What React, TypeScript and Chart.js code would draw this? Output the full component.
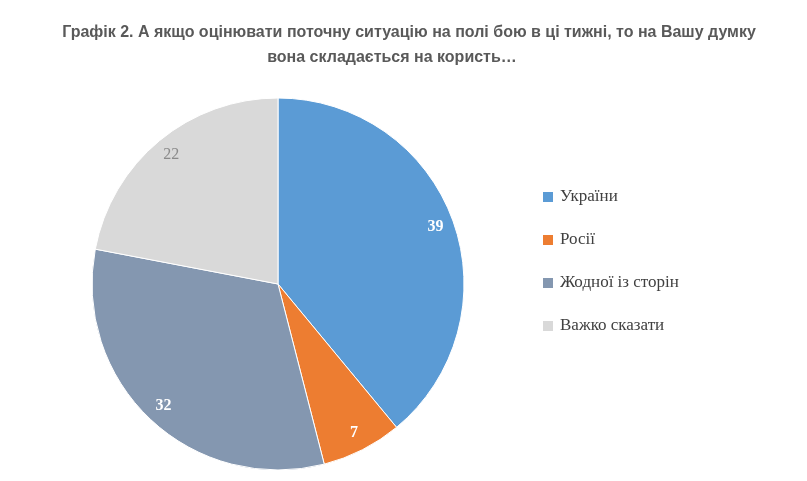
import React, { useEffect, useRef } from "react";
import { Chart, registerables } from "chart.js";
Chart.register(...registerables);

const categories = ["України", "Росії", "Жодної із сторін", "Важко сказати"];
const values = [39, 7, 32, 22];
const colors = ["#5B9BD5", "#ED7D31", "#8497B0", "#D9D9D9"];
const labelColors = ["#ffffff", "#ffffff", "#ffffff", "#8a8a8a"];
const titleLines = [
  "Графік 2. А якщо оцінювати поточну ситуацію на полі бою в ці тижні, то на Вашу думку",
  "вона складається на користь…",
];

const overlay = {
  id: "overlay",
  afterDraw(chart: any) {
    const ctx = chart.ctx;
    ctx.save();
    ctx.fillStyle = "#595959";
    ctx.font = "bold 16px 'Liberation Sans', Arial, sans-serif";
    ctx.textAlign = "center";
    ctx.textBaseline = "middle";
    ctx.fillText(titleLines[0], 409, 33);
    ctx.fillText(titleLines[1], 392, 58);
    const meta = chart.getDatasetMeta(0);
    meta.data.forEach((arc: any, i: number) => {
      const { startAngle, endAngle, outerRadius, x, y } = arc.getProps(
        ["startAngle", "endAngle", "outerRadius", "x", "y"], true);
      const mid = (startAngle + endAngle) / 2;
      const r = outerRadius * 0.9;
      ctx.fillStyle = labelColors[i];
      ctx.font = (i === 3 ? "" : "bold ") + "16px 'Liberation Serif', 'Times New Roman', serif";
      ctx.fillText(String(values[i]), x + r * Math.cos(mid), y + r * Math.sin(mid));
    });
    ctx.textAlign = "left";
    ctx.font = "17px 'Liberation Serif', 'Times New Roman', serif";
    categories.forEach((c, i) => {
      const ly = 197 + i * 43;
      ctx.fillStyle = colors[i];
      ctx.fillRect(543, ly - 5, 10, 10);
      ctx.fillStyle = "#404040";
      ctx.fillText(c, 560, ly);
    });
    ctx.restore();
  },
};

export default function App() {
  const ref = useRef<HTMLCanvasElement>(null);
  useEffect(() => {
    const chart = new Chart(ref.current!, {
      type: "pie",
      data: {
        labels: categories,
        datasets: [{ data: values, backgroundColor: colors, borderColor: "#ffffff", borderWidth: 1, radius: 186 }],
      },
      options: {
        animation: false,
        responsive: false,
        layout: { padding: { left: 80, right: 331, top: 90, bottom: 3 } },
        plugins: { legend: { display: false }, tooltip: { enabled: false } },
      },
      plugins: [overlay],
    });
    return () => chart.destroy();
  }, []);
  return (
    <div style={{ position: "fixed", left: 0, top: 0, width: 807, height: 481, background: "#fff" }}>
      <canvas ref={ref} width={807} height={481} />
    </div>
  );
}
